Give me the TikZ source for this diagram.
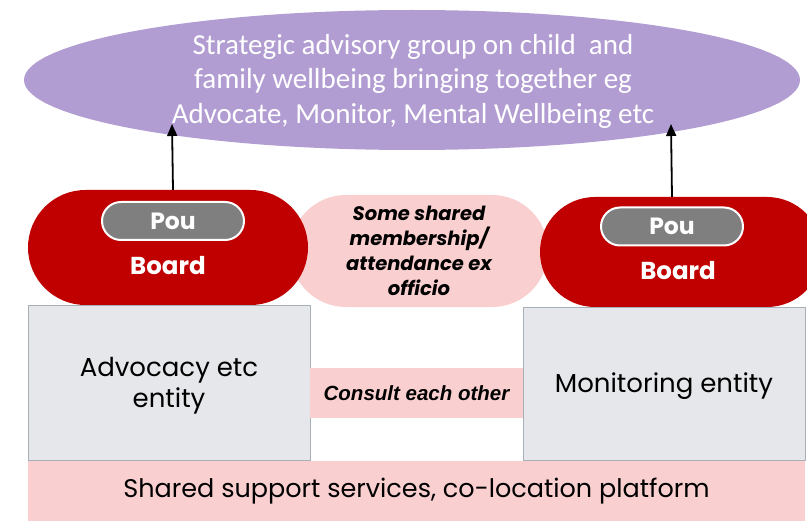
\documentclass[tikz,border=0pt]{standalone}
\usepackage{fontspec}
\setmainfont{Carlito}
\newfontfamily\gothic{Poppins}
\newfontfamily\narrowsans{Liberation Sans}
\usetikzlibrary{shapes.geometric,shapes.misc,arrows.meta}
\definecolor{lilac}{HTML}{B29DD3}
\definecolor{boardred}{HTML}{C00000}
\definecolor{softpink}{HTML}{F9CFCF}
\definecolor{boxgrey}{HTML}{E6E7EB}
\definecolor{boxedge}{HTML}{A6B0B6}
\definecolor{pougrey}{HTML}{7F7F7F}
\tikzset{
  group/.style={ellipse, fill=lilac, text=white, inner sep=0pt, align=center,
    font=\fontsize{29}{34.5}\selectfont},
  board/.style={rounded rectangle, fill=boardred, inner sep=0pt},
  pou/.style={rounded rectangle, fill=pougrey, draw=white, line width=2pt,
    inner sep=0pt, minimum width=142pt, minimum height=38pt,
    text=white, font=\gothic\bfseries\fontsize{23.5}{23.5}\selectfont},
  boardtext/.style={text=white, font=\gothic\bfseries\fontsize{24.5}{24.5}\selectfont},
  shared/.style={rounded rectangle, fill=softpink, inner sep=0pt, align=center,
    font=\gothic\bfseries\itshape\fontsize{19.5}{25}\selectfont},
  entity/.style={rectangle, fill=boxgrey, draw=boxedge, line width=1pt, inner sep=0pt,
    align=center, font=\gothic\fontsize{26}{31}\selectfont},
  band/.style={rectangle, fill=softpink, inner sep=0pt},
  uparrow/.style={draw=black, line width=1.8pt, -{Triangle[length=12pt,width=10pt]}}
}
\begin{document}
\begin{tikzpicture}[x=1pt,y=-1pt]
\useasboundingbox (0,0) rectangle (807,524);
\clip (0,0) rectangle (807,524);
\fill[white] (0,0) rectangle (807,524);

% strategic advisory group
\node[group, minimum width=776pt, minimum height=140pt] (sag) at (412,80)
  {};
\node[text=white, align=center, font=\fontsize{29}{34.5}\selectfont] (sagtext) at (413,81)
  {Strategic advisory group on child\ \ and\\family wellbeing bringing together eg\\Advocate, Monitor, Mental Wellbeing etc};

% shared membership pill sits behind both boards
\node[shared, minimum width=258pt, minimum height=112pt] (mem) at (419,251)
  {Some shared\\membership/\\attendance ex\\officio};

% boards
\node[board, minimum width=280pt, minimum height=115pt] (lb) at (168,247.5) {};
\node[board, minimum width=282pt, minimum height=110pt] (rb) at (681,252) {};
\node[pou] (lpou) at (173,221) {Pou};
\node[pou] (rpou) at (672,226.5) {Pou};
\node[boardtext] (lbt) at (168,266) {Board};
\node[boardtext] (rbt) at (678,271) {Board};

% arrows up to the advisory group
\coordinate (ltip) at (172,124);
\coordinate (rtip) at (671,124);
\draw[uparrow] (lpou.north |- lb.north) -- (ltip);
\draw[uparrow] (rpou.north |- rb.north) -- (rtip);

% entities
\node[entity, minimum width=282pt, minimum height=155pt] (adv) at (169,382.5) {};
\node[align=center, font=\gothic\fontsize{26}{31}\selectfont] (advtext) at (169,386)
  {Advocacy etc\\entity};
\node[entity, minimum width=282pt, minimum height=153pt] (mon) at (664,383.5)
  {};
\node[font=\gothic\fontsize{26}{31}\selectfont] (montext) at (664,386) {Monitoring entity};
\node[band, minimum width=213pt, minimum height=50pt,
  font=\narrowsans\bfseries\itshape\fontsize{20.5}{22}\selectfont] (con) at (416.5,393)
  {Consult each other};

% shared platform
\node[band, minimum width=777pt, minimum height=60pt,
  font=\gothic\fontsize{25.5}{28}\selectfont] (plat) at (416.5,491)
  {Shared support services, co-location platform};
\end{tikzpicture}
\end{document}
